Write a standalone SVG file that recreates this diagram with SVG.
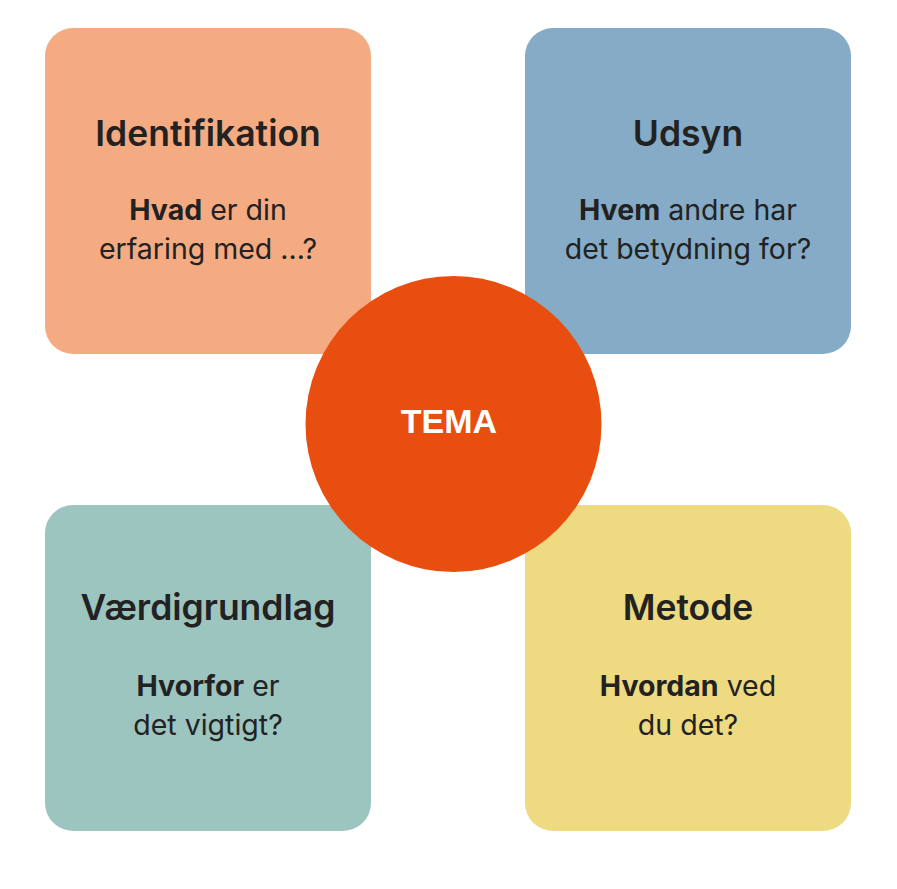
<svg xmlns="http://www.w3.org/2000/svg" width="897" height="889" viewBox="0 0 897 889">
<style>
.title{font-family:Inter,"Liberation Sans",sans-serif;font-size:35.5px;font-weight:600;fill:#222;text-anchor:middle}
.body{font-family:Inter,"Liberation Sans",sans-serif;font-size:28.5px;font-weight:400;fill:#222;text-anchor:middle}
.b{font-weight:700}
.tema{font-family:"Liberation Sans",Arial,sans-serif;font-size:34px;font-weight:700;fill:#fff;text-anchor:middle}
</style>
<rect width="897" height="889" fill="#fff"/>
<g id="identifikation">
<rect x="45" y="28" width="326" height="326" rx="28" fill="#F5AB82"/>
<text class="title" x="208" y="146">Identifikation</text>
<text class="body" x="208" y="220"><tspan class="b">Hvad</tspan> er din</text>
<text class="body" x="208" y="259">erfaring med ...?</text>
</g>
<g id="udsyn">
<rect x="525" y="28" width="326" height="326" rx="28" fill="#85ABC6"/>
<text class="title" x="688" y="146">Udsyn</text>
<text class="body" x="688" y="220"><tspan class="b">Hvem</tspan> andre har</text>
<text class="body" x="688" y="259">det betydning for?</text>
</g>
<g id="vaerdigrundlag">
<rect x="45" y="505" width="326" height="326" rx="28" fill="#9CC5C0"/>
<text class="title" x="208" y="620">Værdigrundlag</text>
<text class="body" x="208" y="696"><tspan class="b">Hvorfor</tspan> er</text>
<text class="body" x="208" y="735">det vigtigt?</text>
</g>
<g id="metode">
<rect x="525" y="505" width="326" height="326" rx="28" fill="#EEDA80"/>
<text class="title" x="688" y="620">Metode</text>
<text class="body" x="688" y="696"><tspan class="b">Hvordan</tspan> ved</text>
<text class="body" x="688" y="735">du det?</text>
</g>
<g id="tema">
<circle cx="453.5" cy="424" r="148" fill="#E84E0F"/>
<text class="tema" x="449" y="433">TEMA</text>
</g>
<g id="connectors"></g>
</svg>
